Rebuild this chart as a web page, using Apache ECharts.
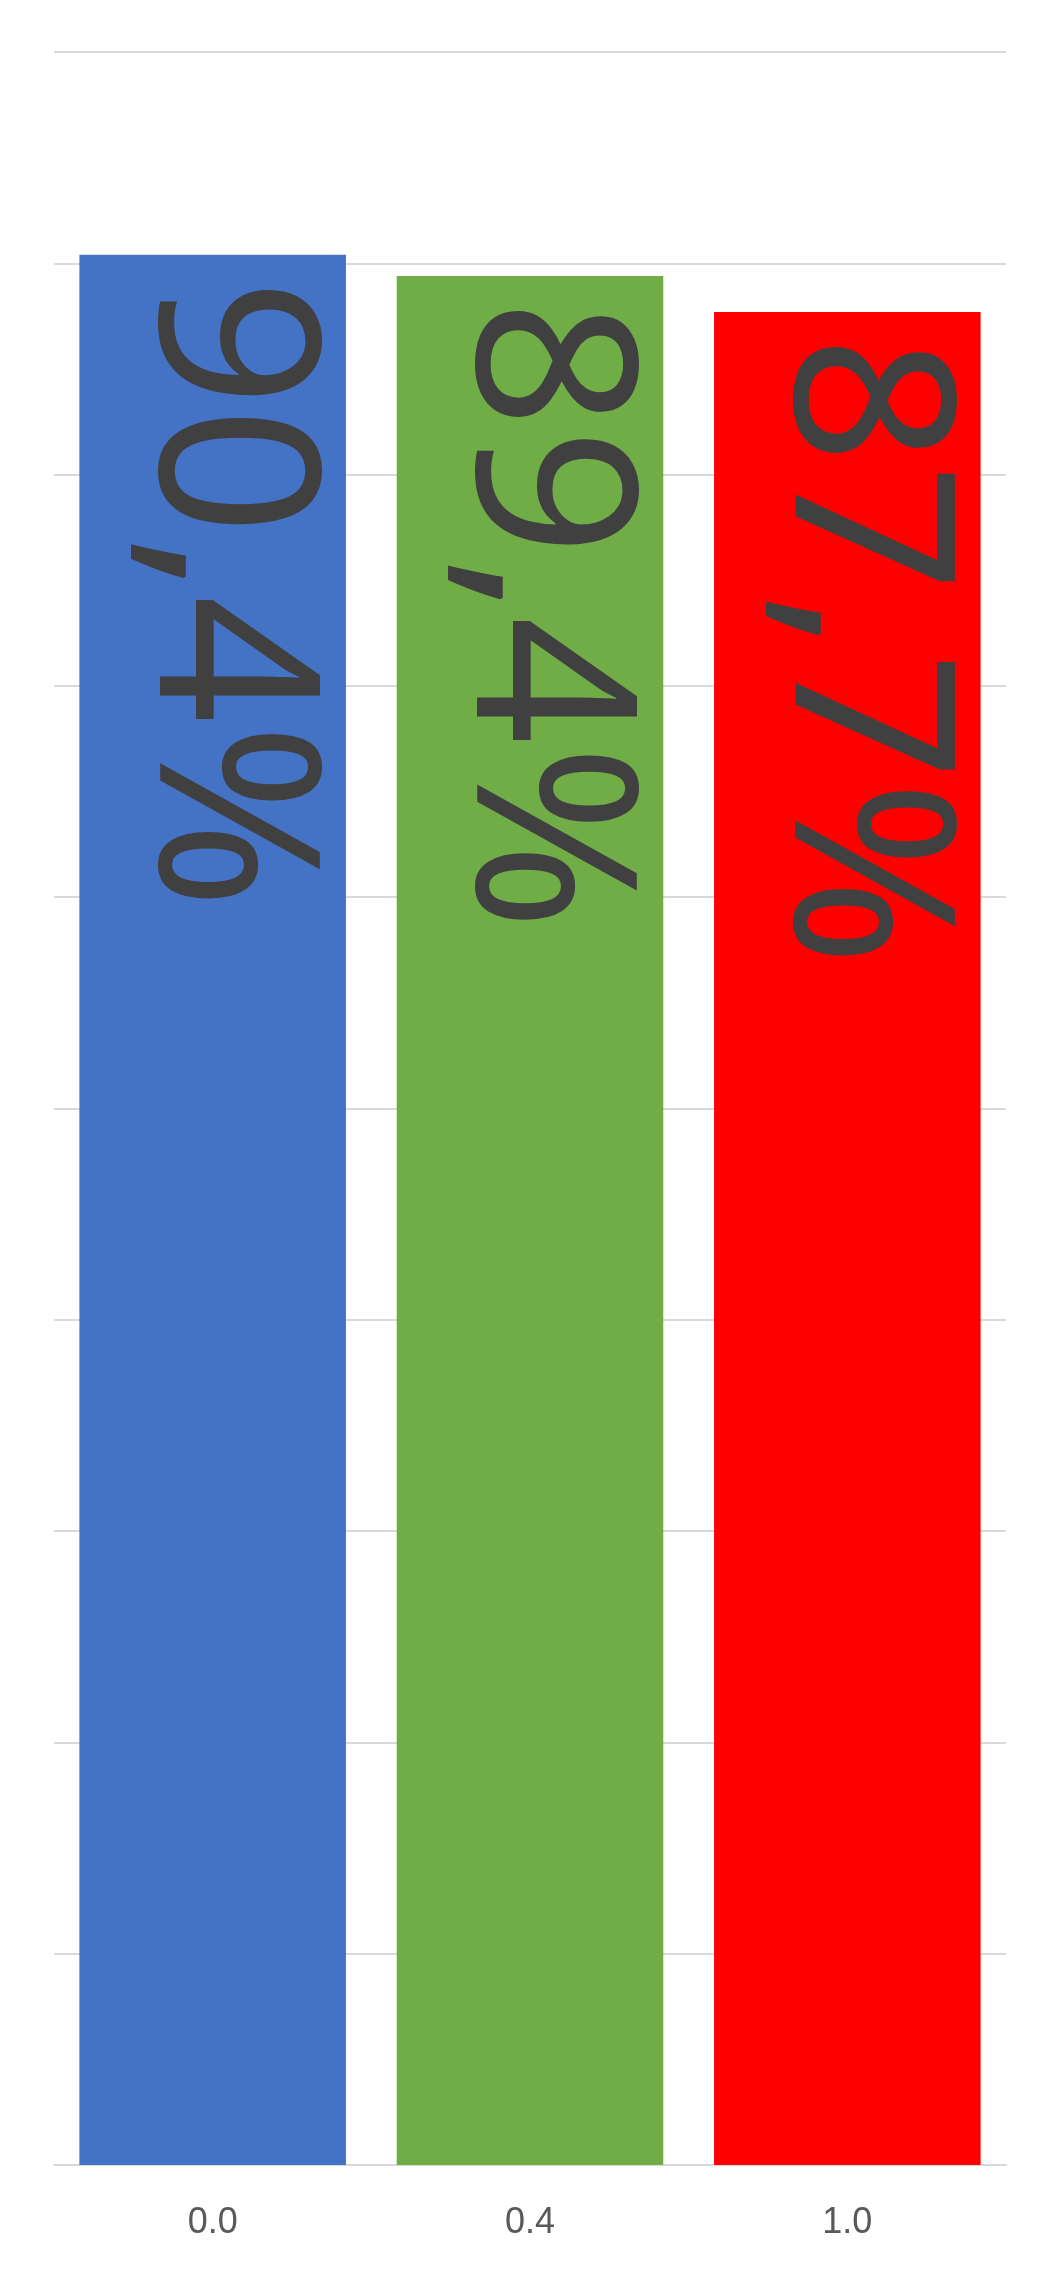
<!DOCTYPE html>
<html>
<head>
<meta charset="utf-8">
<script src="https://cdn.jsdelivr.net/npm/echarts@6/dist/echarts.min.js"></script>
<style>
html,body{margin:0;padding:0;background:#fff;}
#chart{width:1063px;height:2277px;}
</style>
</head>
<body>
<div id="chart"></div>
<script>
const categories = ['0.0', '0.4', '1.0'];
const values = [90.4, 89.4, 87.7];
const valueLabels = ['90,4%', '89,4%', '87,7%'];
const barColors = ['#4472C4', '#70AD47', '#FF0000'];
const yTicks = [0, 10, 20, 30, 40, 50, 60, 70, 80, 90, 100];

const chart = echarts.init(document.getElementById('chart'), null, {renderer: 'canvas'});
chart.setOption({
  backgroundColor: '#ffffff',
  animation: false,
  grid: {left: 54, right: 57, top: 52, bottom: 112, containLabel: false},
  xAxis: {
    type: 'category',
    data: categories,
    axisLine: {show: true, lineStyle: {color: '#d9d9d9', width: 2}},
    axisTick: {show: false},
    axisLabel: {color: '#595959', fontFamily: 'Liberation Sans', fontSize: 36, margin: 40}
  },
  yAxis: {
    type: 'value',
    min: yTicks[0],
    max: yTicks[yTicks.length - 1],
    interval: 10,
    axisLabel: {show: false},
    axisLine: {show: false},
    axisTick: {show: false},
    splitLine: {lineStyle: {color: '#d9d9d9', width: 2}}
  },
  series: [{
    type: 'bar',
    barCategoryGap: '16%',
    data: values.map((v, i) => ({value: v, itemStyle: {color: barColors[i]}})),
    label: {
      show: true,
      position: 'insideTop',
      distance: 24,
      rotate: -90,
      align: 'left',
      verticalAlign: 'middle',
      offset: [0, -11],
      color: '#404040',
      fontFamily: 'Noto Sans',
      fontSize: 224,
      formatter: p => valueLabels[p.dataIndex]
    }
  }]
});
</script>
</body>
</html>
